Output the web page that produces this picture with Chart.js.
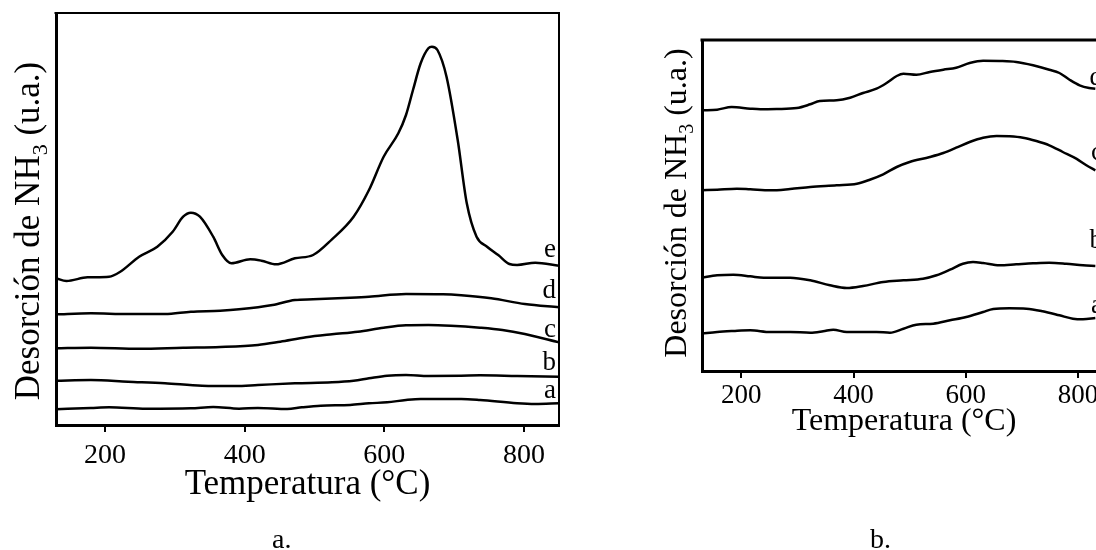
<!DOCTYPE html>
<html>
<head>
<meta charset="utf-8">
<script src="https://cdn.jsdelivr.net/npm/chart.js@4/dist/chart.umd.min.js"></script>
<style>
  html, body { margin: 0; padding: 0; background: #fff; overflow: hidden; width: 1096px; height: 550px; }
  .panel { position: absolute; top: 0; }
  .cap { position: absolute; font-family: "Liberation Serif", serif; font-size: 28px; line-height: 28px; color: #000; }
</style>
</head>
<body>
<div class="panel" style="left:0px"><canvas id="ca" width="600" height="550"></canvas></div>
<div class="panel" style="left:620px"><canvas id="cb" width="500" height="550"></canvas></div>
<div class="cap" style="left:272px; top:525px">a.</div>
<div class="cap" style="left:870px; top:525px">b.</div>
<script>
// Temperature axis
const tempMin = 130, tempMax = 850;
const tempTicks = [200, 400, 600, 800];

// Panel a: NH3-TPD profiles, samples a–e (offset traces, arbitrary units)
const aTemp_a = [130,180,206,259,323,355,392,419,461,482,509,551,578,604,631,652,710,737,790,816,850];
const aSig_a  = [15.7,17,17.7,16.3,16.7,18,16.3,17,16,17.7,19.3,20,21.7,22.7,25,26,26,25,21.7,21,21.7];

const aTemp_b = [130,180,233,286,339,387,419,472,525,556,578,604,631,663,710,737,790,850];
const aSig_b  = [44.3,45,43.3,41.7,39.3,39,40,41.7,42.7,44.3,46.7,49.3,50,49,49.3,49.7,49,48.3];

const aTemp_c = [130,180,249,312,365,419,451,488,525,562,599,631,663,695,737,769,801,850];
const aSig_c  = [76.7,77.3,76.3,77.3,78,80,83.3,87.7,90.7,93.3,97.3,99.7,100,99.3,97.3,95,91,82.7];

const aTemp_d = [130,180,233,286,323,365,392,440,472,498,551,578,631,684,710,753,801,850];
const aSig_d  = [110.7,111.7,111,111,113.3,114.3,115.7,120,125,125.7,127.3,128.3,131,130.7,129.7,126.7,121,117.7];

const aTemp_e = [130,145,175,206,222,249,275,297,312,323,336,355,368,381,408,424,445,472,498,525,556,578,599,620,631,641,652,663,668,676,689,705,718,732,747,763,779,790,816,850];
const aSig_e  = [146.7,144,147.7,148.3,153.3,168.3,178.3,193.3,208.3,212.3,208.3,188.3,170,161.7,165.7,164.3,160.7,166.7,170,185.7,208.3,235,268.3,291.7,310,335,361.7,376.7,378.3,375,348.3,285,221.7,188.3,178.3,170,161,160,162.3,159.3];

// Panel b: NH3-TPD profiles, samples a–d
const bTemp_a = [130,157,186,216,252,287,323,346,364,388,417,441,465,489,512,542,572,601,631,649,678,708,737,767,791,809,831];
const bSig_a  = [37.3,39,40,40.7,39,39,38.3,39.7,41.3,39,39,39,38.3,42.3,46.3,47.3,50.7,54,59,62,62.7,62.3,59.7,55.7,52.3,51.7,53];

const bTemp_b = [130,157,186,216,240,287,323,358,388,417,453,489,524,548,572,595,613,631,660,690,720,749,779,809,831];
const bSig_b  = [93.3,95.7,96.3,94.7,93.3,93.3,90.7,85.7,83,85,89,90.7,92.3,95.7,101.3,107.3,109,108,105.7,106.7,107.7,108.3,107.3,105.7,105];

const bTemp_c = [130,157,192,216,252,287,323,370,406,429,453,477,500,536,560,583,607,631,655,678,702,726,749,773,797,815,831];
const bSig_c  = [180.7,181.3,182.3,181.7,180.7,182,184,185.7,187.3,191.3,196.7,204,209,214,218,223.3,229,233.3,235,234.7,233.3,230,225.7,219,212.3,205.7,200.7];

const bTemp_d = [130,157,183,216,234,263,299,323,340,370,394,417,441,459,477,489,512,536,560,583,607,631,660,690,720,749,767,785,803,820,831];
const bSig_d  = [260.7,261.3,264,262.3,261.7,262,263,266.7,270,270.7,273.3,278,282.3,288,295,297.3,296.3,299,301.3,303.3,308,310.3,310,309,305.7,301.3,298,291.3,285.7,283,282.3];

// Trace names and the signal level at which each name sits
const aNames = ['a','b','c','d','e'];
const aNameLevel = [27,55,88,127,168];
const bNames = ['a','b','c','d'];
const bNameLevel = [58,123,211,286];

const FONT = '"Liberation Serif", "Times New Roman", serif';

function pts(xs, ys) { return xs.map((x, i) => ({ x, y: ys[i] })); }
function trace(xs, ys) {
  return { data: pts(xs, ys), borderColor: '#000', borderWidth: 2.5, pointRadius: 0,
           cubicInterpolationMode: 'monotone', fill: false };
}

// Frame lines on the top (and optionally right) edges of the plot area
const framePlugin = {
  id: 'frame',
  afterDraw(chart, args, o) {
    const { ctx, chartArea: a } = chart;
    ctx.save();
    ctx.strokeStyle = '#000';
    ctx.lineWidth = o.topWidth;
    ctx.beginPath(); ctx.moveTo(a.left - 1.5, a.top); ctx.lineTo(a.right + (o.rightWidth ? o.rightWidth / 2 : 0), a.top); ctx.stroke();
    if (o.rightWidth) {
      ctx.lineWidth = o.rightWidth;
      ctx.beginPath(); ctx.moveTo(a.right, a.top); ctx.lineTo(a.right, a.bottom); ctx.stroke();
    }
    ctx.restore();
  }
};

// Vertical axis title with a subscript digit
const yTitlePlugin = {
  id: 'yTitle',
  afterDraw(chart, args, o) {
    const { ctx } = chart;
    const f = o.size;
    const parts = [[o.pre, f, 0], [o.sub, Math.round(f * 0.62), f * 0.32], [o.post, f, 0]];
    ctx.save();
    ctx.translate(o.x, o.y);
    ctx.rotate(-Math.PI / 2);
    ctx.fillStyle = '#000';
    ctx.textBaseline = 'middle';
    let total = 0;
    parts.forEach(p => { ctx.font = p[1] + 'px ' + FONT; total += ctx.measureText(p[0]).width; });
    let cx = -total / 2;
    parts.forEach(p => {
      ctx.font = p[1] + 'px ' + FONT;
      ctx.fillText(p[0], cx, p[2]);
      cx += ctx.measureText(p[0]).width;
    });
    ctx.restore();
  }
};

// Trace names at the right edge of the plot area
const namePlugin = {
  id: 'names',
  afterDatasetsDraw(chart, args, o) {
    const { ctx, chartArea: a, scales: { y } } = chart;
    ctx.save();
    ctx.fillStyle = '#000';
    ctx.font = o.size + 'px ' + FONT;
    ctx.textAlign = 'right';
    ctx.textBaseline = 'alphabetic';
    o.names.forEach((n, i) => ctx.fillText(n, a.right - o.inset, y.getPixelForValue(o.levels[i])));
    ctx.restore();
  }
};

function makeOptions(cfg) {
  return {
    responsive: false,
    animation: false,
    events: [],
    layout: { padding: { top: cfg.top, right: cfg.right, left: 0, bottom: 0 } },
    plugins: {
      legend: { display: false },
      tooltip: { enabled: false },
      frame: cfg.frame,
      yTitle: cfg.yTitle,
      names: cfg.names
    },
    scales: {
      x: {
        type: 'linear', min: tempMin, max: tempMax,
        afterBuildTicks: s => { s.ticks = tempTicks.map(v => ({ value: v })); },
        afterFit: s => { s.height = cfg.xHeight; },
        grid: { display: true, drawOnChartArea: false, drawTicks: true, tickLength: 7, tickWidth: 2, lineWidth: 2, color: '#000' },
        border: { display: true, width: 3, color: '#000' },
        ticks: { color: '#000', font: { family: FONT, size: cfg.tickSize }, padding: cfg.tickPad, maxRotation: 0, autoSkip: false },
        title: { display: true, text: 'Temperatura (°C)', color: '#000', font: { family: FONT, size: cfg.titleSize },
                 padding: { top: 0, bottom: cfg.titlePad } }
      },
      y: {
        type: 'linear', min: 0, max: cfg.yMax,
        afterFit: s => { s.width = cfg.yWidth; },
        grid: { display: false, drawTicks: false },
        ticks: { display: false },
        border: { display: true, width: 3, color: '#000' }
      }
    }
  };
}

new Chart(document.getElementById('ca'), {
  type: 'line',
  data: { datasets: [
    trace(aTemp_a, aSig_a), trace(aTemp_b, aSig_b), trace(aTemp_c, aSig_c),
    trace(aTemp_d, aSig_d), trace(aTemp_e, aSig_e)
  ] },
  options: makeOptions({
    top: 13, right: 41, xHeight: 125, yWidth: 56, yMax: 412,
    tickSize: 28, tickPad: 7, titleSize: 35, titlePad: 44,
    frame: { topWidth: 2, rightWidth: 2 },
    yTitle: { x: 30, y: 231, size: 35, pre: 'Desorción de NH', sub: '3', post: ' (u.a.)' },
    names: { names: aNames, levels: aNameLevel, size: 27, inset: 3 }
  }),
  plugins: [framePlugin, yTitlePlugin, namePlugin]
});

new Chart(document.getElementById('cb'), {
  type: 'line',
  data: { datasets: [
    trace(bTemp_a, bSig_a), trace(bTemp_b, bSig_b), trace(bTemp_c, bSig_c), trace(bTemp_d, bSig_d)
  ] },
  options: makeOptions({
    top: 40, right: 14, xHeight: 179, yWidth: 82, yMax: 331,
    tickSize: 27, tickPad: 2, titleSize: 32, titlePad: 109,
    frame: { topWidth: 3, rightWidth: 0 },
    yTitle: { x: 58, y: 203, size: 32, pre: 'Desorción de NH', sub: '3', post: ' (u.a.)' },
    names: { names: bNames, levels: bNameLevel, size: 27, inset: 3 }
  }),
  plugins: [framePlugin, yTitlePlugin, namePlugin]
});
</script>
</body>
</html>
